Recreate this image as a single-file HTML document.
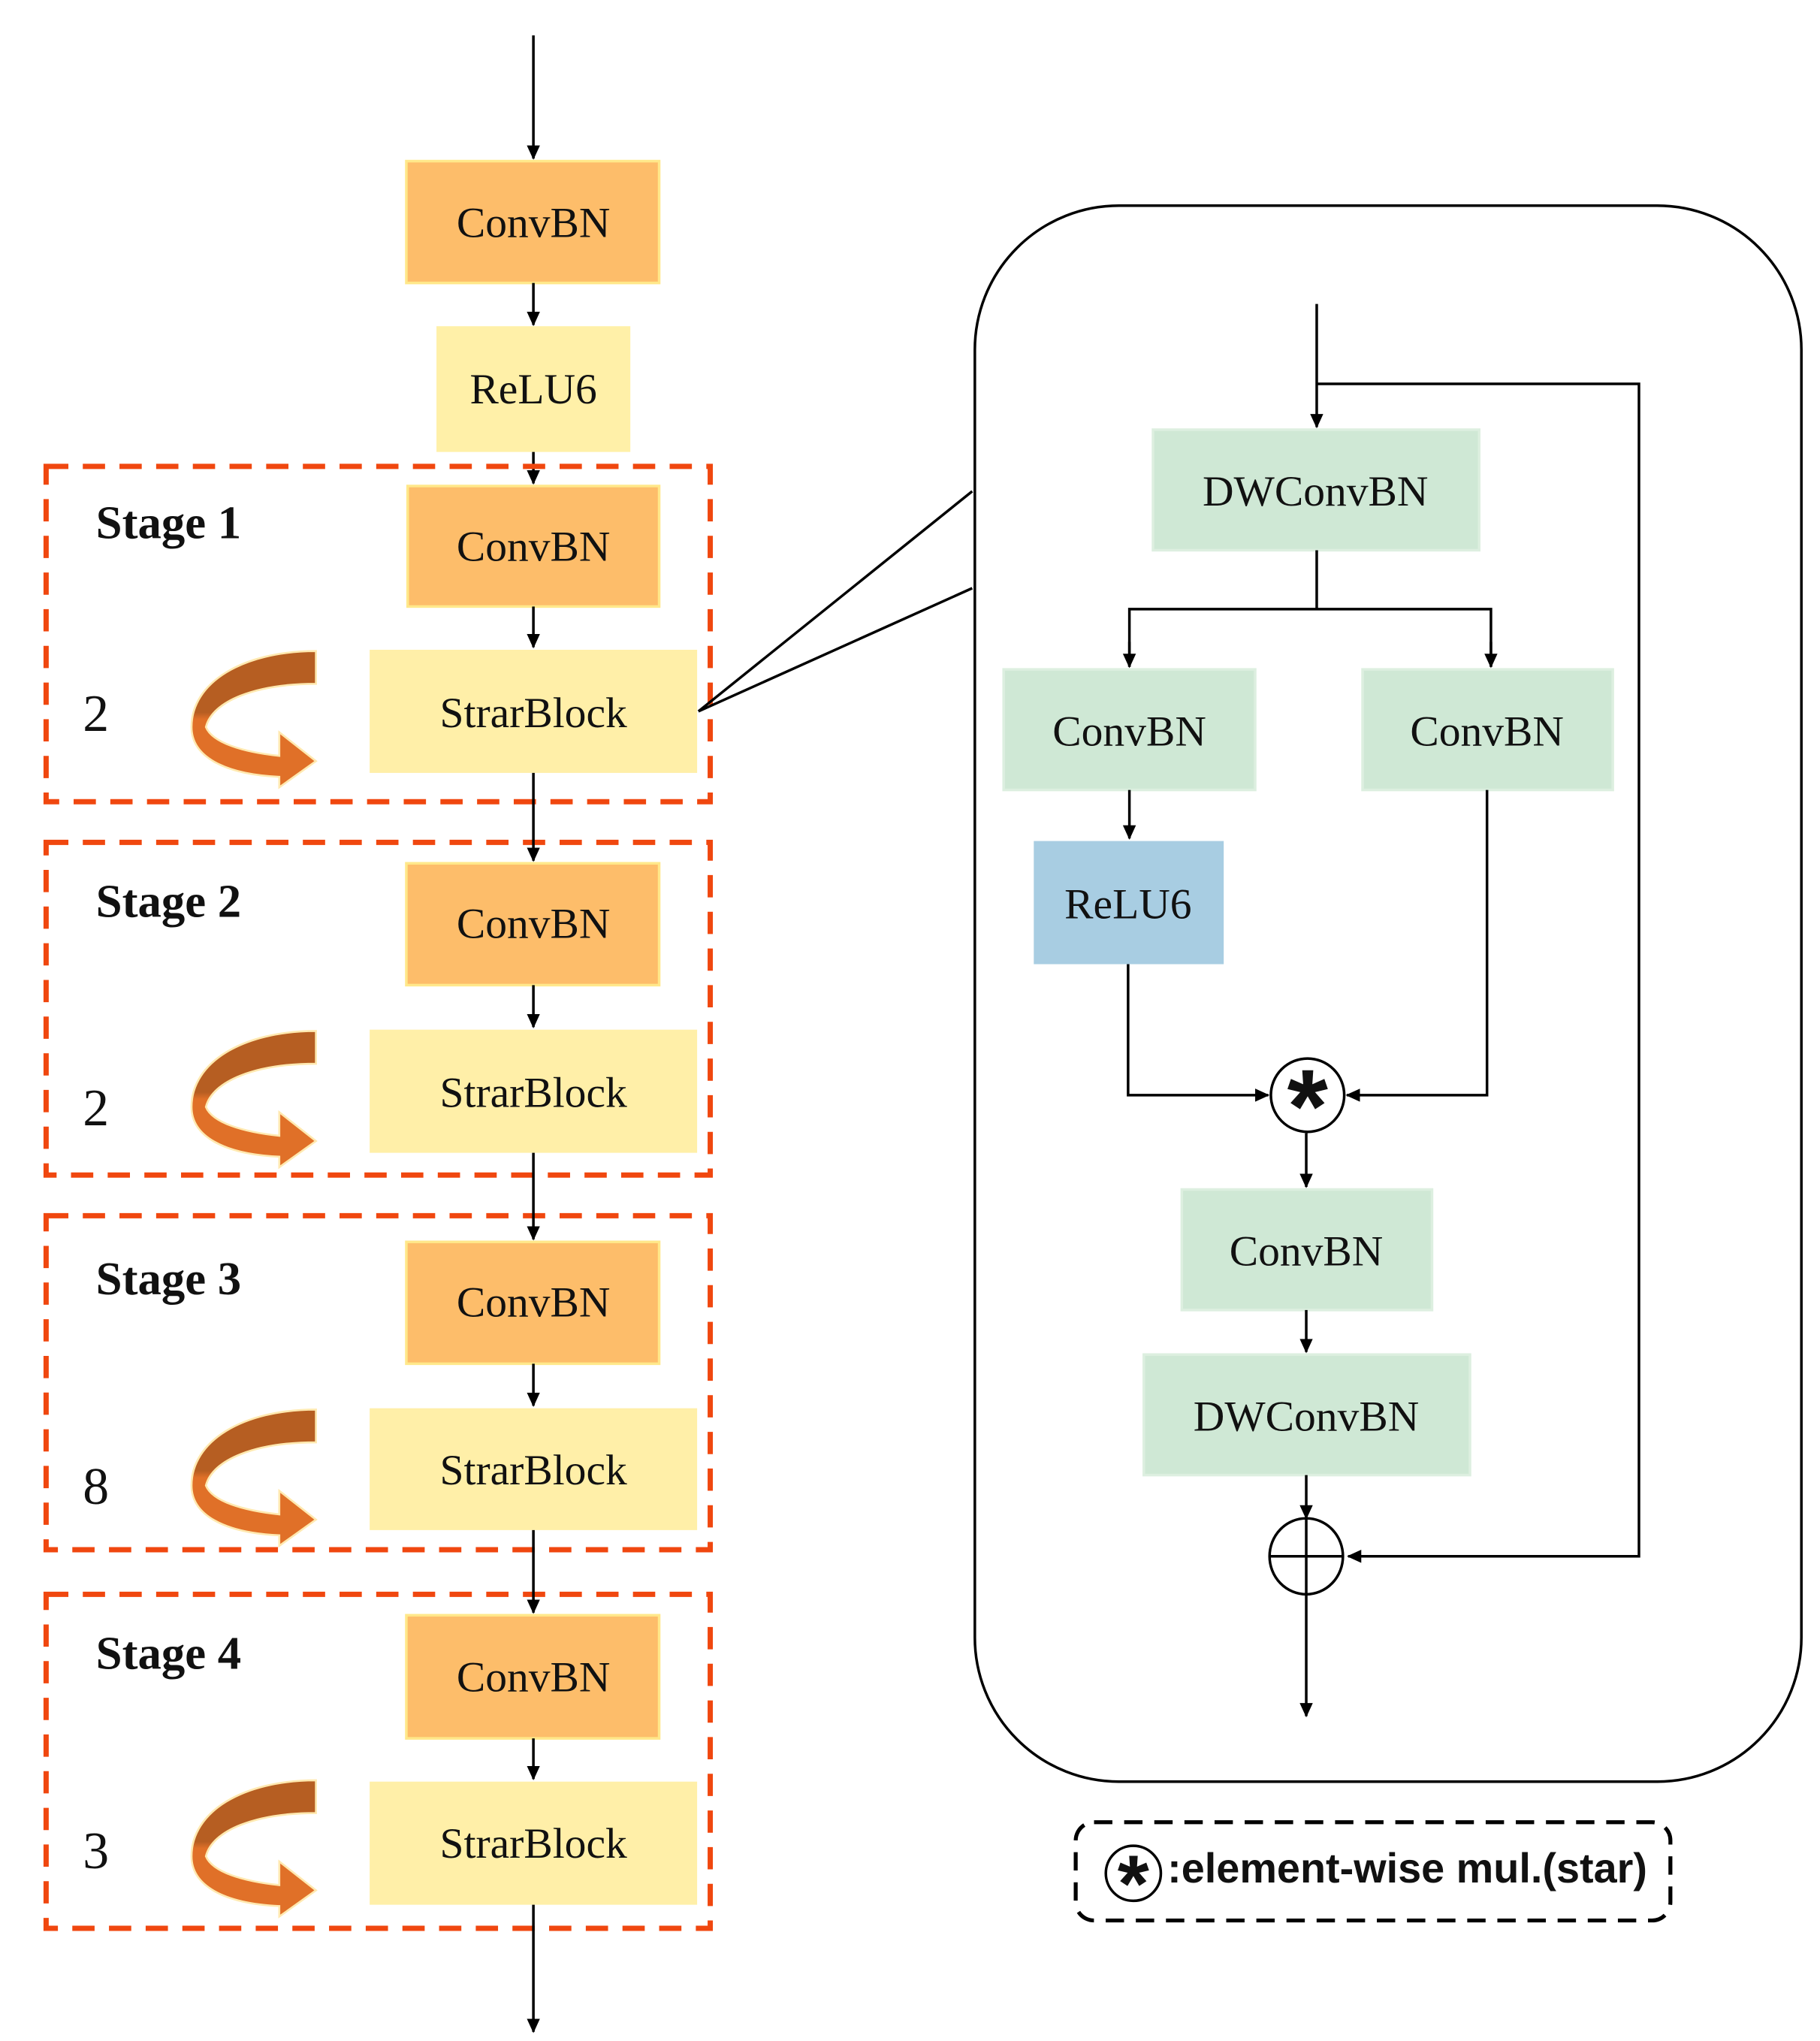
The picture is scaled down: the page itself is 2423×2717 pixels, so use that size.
<!DOCTYPE html>
<html><head><meta charset="utf-8"><style>html,body{margin:0;padding:0;background:#fff}svg{display:block}</style></head><body>
<svg width="2423" height="2717" viewBox="0 0 1389 1558" xmlns="http://www.w3.org/2000/svg">
<defs>
<marker id="a" markerWidth="12" markerHeight="12" refX="10" refY="5" orient="auto" markerUnits="userSpaceOnUse"><path d="M0,0 L11,5 L0,10 Z" fill="#000"/></marker>
<linearGradient id="g" x1="0" y1="0" x2="0" y2="1"><stop offset="0.45" stop-color="#B65E22"/><stop offset="0.5" stop-color="#E07028"/></linearGradient>
<g id="carr"><path d="M241,0 L241,25 C195,25 162,38 157,58 C162,70 185,77 213,80 L213,62 L241,84 L213,104 L213,96 C170,94 146,80 146,58 C146,24 185,0 241,0 Z" fill="url(#g)" stroke="#FFE9B0" stroke-width="1.5"/></g>
</defs>
<g font-family="'Liberation Serif',serif" font-size="33" text-anchor="middle" fill="#111">
<line x1="407" y1="27" x2="407" y2="121" stroke="#000" stroke-width="2" marker-end="url(#a)"/>
<rect x="310" y="123" width="193" height="93" fill="#FDBD6A" stroke="#FFE88A" stroke-width="2"/><text x="407" y="181">ConvBN</text>
<line x1="407" y1="216" x2="407" y2="248" stroke="#000" stroke-width="2" marker-end="url(#a)"/>
<rect x="333" y="249" width="148" height="96" fill="#FFF0A8"/><text x="407" y="308">ReLU6</text>
<line x1="407" y1="345" x2="407" y2="369" stroke="#000" stroke-width="2" marker-end="url(#a)"/>
<g fill="none" stroke="#F0470F" stroke-width="4" stroke-dasharray="17,11">
<rect x="35" y="356" width="507" height="256"/>
<rect x="35" y="643" width="507" height="254"/>
<rect x="35" y="928" width="507" height="255"/>
<rect x="35" y="1217" width="507" height="255"/>
</g>
<g fill="#FDBD6A" stroke="#FFE88A" stroke-width="2">
<rect x="311" y="371" width="192" height="92"/>
<rect x="310" y="659" width="193" height="93"/>
<rect x="310" y="948" width="193" height="93"/>
<rect x="310" y="1233" width="193" height="94"/>
</g>
<g fill="#FFEFA8">
<rect x="282" y="496" width="250" height="94"/>
<rect x="282" y="786" width="250" height="94"/>
<rect x="282" y="1075" width="250" height="93"/>
<rect x="282" y="1360" width="250" height="94"/>
</g>
<g stroke="#000" stroke-width="2">
<line x1="407" y1="463" x2="407" y2="494" marker-end="url(#a)"/>
<line x1="407" y1="590" x2="407" y2="657" marker-end="url(#a)"/>
<line x1="407" y1="752" x2="407" y2="784" marker-end="url(#a)"/>
<line x1="407" y1="880" x2="407" y2="946" marker-end="url(#a)"/>
<line x1="407" y1="1041" x2="407" y2="1073" marker-end="url(#a)"/>
<line x1="407" y1="1168" x2="407" y2="1231" marker-end="url(#a)"/>
<line x1="407" y1="1327" x2="407" y2="1358" marker-end="url(#a)"/>
<line x1="407" y1="1454" x2="407" y2="1551" marker-end="url(#a)"/>
</g>
<text x="407" y="428">ConvBN</text><text x="407" y="555">StrarBlock</text>
<text x="407" y="716">ConvBN</text><text x="407" y="845">StrarBlock</text>
<text x="407" y="1005">ConvBN</text><text x="407" y="1133">StrarBlock</text>
<text x="407" y="1291">ConvBN</text><text x="407" y="1418">StrarBlock</text>
<g text-anchor="start" font-weight="bold" font-size="36">
<text x="73" y="411">Stage 1</text><text x="73" y="700">Stage 2</text><text x="73" y="988">Stage 3</text><text x="73" y="1274">Stage 4</text>
</g>
<g font-size="40"><text x="73" y="558">2</text><text x="73" y="859">2</text><text x="73" y="1148">8</text><text x="73" y="1426">3</text></g>
<use href="#carr" transform="translate(0,497)"/>
<use href="#carr" transform="translate(0,787)"/>
<use href="#carr" transform="translate(0,1076)"/>
<use href="#carr" transform="translate(0,1359)"/>
<line x1="533" y1="543" x2="742" y2="375" stroke="#000" stroke-width="2"/>
<line x1="533" y1="543" x2="742" y2="449" stroke="#000" stroke-width="2"/>
<rect x="744" y="157" width="631" height="1203" rx="110" fill="none" stroke="#000" stroke-width="2"/>
<g fill="#CFE8D5" stroke="#DDEFE0" stroke-width="2">
<rect x="880" y="328" width="249" height="92"/>
<rect x="766" y="511" width="192" height="92"/>
<rect x="1040" y="511" width="191" height="92"/>
<rect x="902" y="908" width="191" height="92"/>
<rect x="873" y="1034" width="249" height="92"/>
</g>
<rect x="789" y="642" width="145" height="94" fill="#A8CDE2"/>
<text x="1004" y="386">DWConvBN</text>
<text x="862" y="569">ConvBN</text><text x="1135" y="569">ConvBN</text>
<text x="861" y="701">ReLU6</text>
<text x="997" y="966">ConvBN</text><text x="997" y="1092">DWConvBN</text>
<g stroke="#000" stroke-width="2" fill="none">
<line x1="1005" y1="232" x2="1005" y2="326" marker-end="url(#a)"/>
<polyline points="1005,293 1251,293 1251,1188 1029,1188" marker-end="url(#a)"/>
<line x1="1005" y1="420" x2="1005" y2="465"/>
<polyline points="862,509 862,465 1138,465 1138,509" />
<line x1="862" y1="490" x2="862" y2="509" marker-end="url(#a)"/>
<line x1="1138" y1="490" x2="1138" y2="509" marker-end="url(#a)"/>
<line x1="862" y1="603" x2="862" y2="640" marker-end="url(#a)"/>
<polyline points="861,736 861,836 968,836" marker-end="url(#a)"/>
<polyline points="1135,603 1135,836 1028,836" marker-end="url(#a)"/>
<circle cx="998" cy="836" r="28"/>
<line x1="997" y1="865" x2="997" y2="906" marker-end="url(#a)"/>
<line x1="997" y1="1000" x2="997" y2="1032" marker-end="url(#a)"/>
<line x1="997" y1="1126" x2="997" y2="1159" marker-end="url(#a)"/>
<ellipse cx="997" cy="1188" rx="28" ry="29"/>
<line x1="969" y1="1188" x2="1025" y2="1188"/>
<line x1="997" y1="1159" x2="997" y2="1310" marker-end="url(#a)"/>
</g>
<text x="998" y="872" font-family="'Liberation Sans',sans-serif" font-weight="bold" font-size="80">*</text>
<rect x="821" y="1391" width="454" height="75" rx="14" fill="none" stroke="#000" stroke-width="3" stroke-dasharray="14,9"/>
<circle cx="865" cy="1430" r="21" fill="none" stroke="#000" stroke-width="2"/>
<text x="865" y="1459" font-family="'Liberation Sans',sans-serif" font-weight="bold" font-size="62">*</text>
<text x="891" y="1437" text-anchor="start" font-family="'Liberation Sans','DejaVu Sans',sans-serif" font-weight="bold" font-size="32">:element-wise mul.(star)</text>
</g>
</svg>
</body></html>
